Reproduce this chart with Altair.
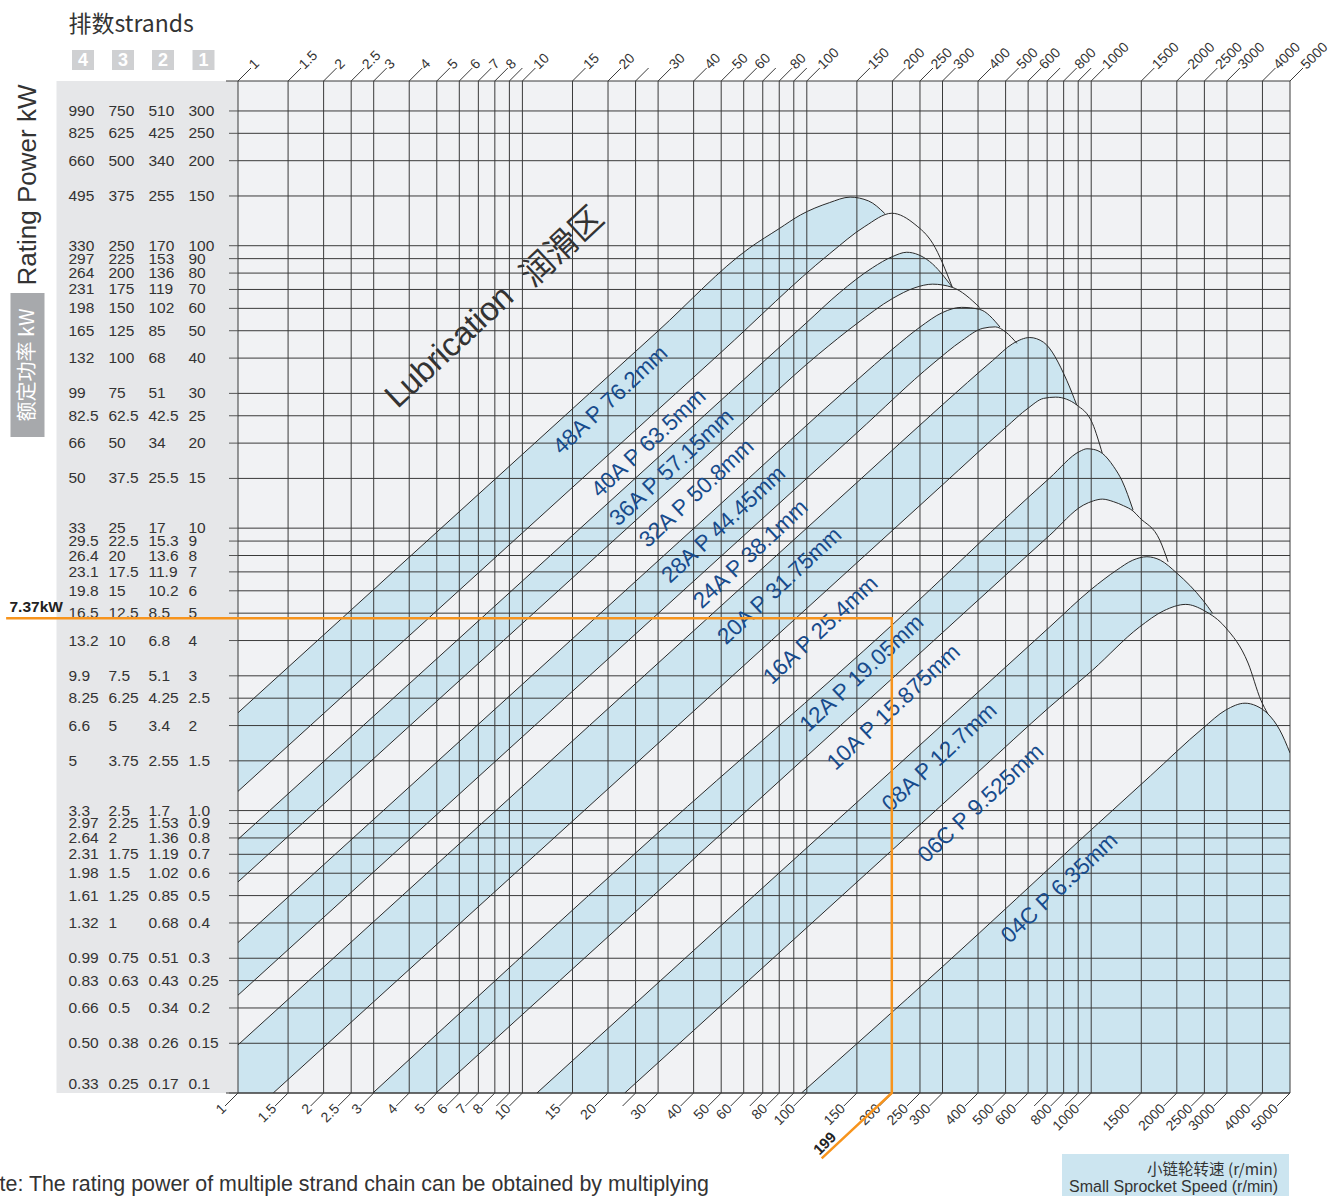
import altair as alt
import pandas as pd

W, H = 1052, 1012
FONT = "Liberation Sans, Arial, Noto Sans CJK SC"
CJK = "Noto Sans CJK SC, Liberation Sans"
BLUE = "#CCE5F0"
BG = "#F1F2F4"
PANEL = "#E6E7E9"
GRID = "#3A3A3A"
TXT = "#333333"
LBL = "#174B8C"
ORANGE = "#F7941D"

# ---------------- data ----------------
x_ticks = [1, 1.5, 2, 2.5, 3, 4, 5, 6, 7, 8, 9, 10, 15, 20, 25, 30, 40, 50, 60, 70, 80, 90, 100,
           150, 200, 250, 300, 400, 500, 600, 700, 800, 900, 1000, 1500, 2000, 2500, 3000, 4000, 5000]
x_labels = [1, 1.5, 2, 2.5, 3, 4, 5, 6, 7, 8, 10, 15, 20, 30, 40, 50, 60, 80, 100, 150, 200, 250,
            300, 400, 500, 600, 800, 1000, 1500, 2000, 2500, 3000, 4000, 5000]
y_ticks = [300, 250, 200, 150, 100, 90, 80, 70, 60, 50, 40, 30, 25, 20, 15, 10, 9, 8, 7, 6, 5, 4, 3,
           2.5, 2, 1.5, 1, 0.9, 0.8, 0.7, 0.6, 0.5, 0.4, 0.3, 0.25, 0.2, 0.15, 0.1]
col4 = ["990", "825", "660", "495", "330", "297", "264", "231", "198", "165", "132", "99", "82.5", "66",
        "50", "33", "29.5", "26.4", "23.1", "19.8", "16.5", "13.2", "9.9", "8.25", "6.6", "5", "3.3",
        "2.97", "2.64", "2.31", "1.98", "1.61", "1.32", "0.99", "0.83", "0.66", "0.50", "0.33"]
col3 = ["750", "625", "500", "375", "250", "225", "200", "175", "150", "125", "100", "75", "62.5", "50",
        "37.5", "25", "22.5", "20", "17.5", "15", "12.5", "10", "7.5", "6.25", "5", "3.75", "2.5",
        "2.25", "2", "1.75", "1.5", "1.25", "1", "0.75", "0.63", "0.5", "0.38", "0.25"]
col2 = ["510", "425", "340", "255", "170", "153", "136", "119", "102", "85", "68", "51", "42.5", "34",
        "25.5", "17", "15.3", "13.6", "11.9", "10.2", "8.5", "6.8", "5.1", "4.25", "3.4", "2.55", "1.7",
        "1.53", "1.36", "1.19", "1.02", "0.85", "0.68", "0.51", "0.43", "0.34", "0.26", "0.17"]
col1 = ["300", "250", "200", "150", "100", "90", "80", "70", "60", "50", "40", "30", "25", "20", "15",
        "10", "9", "8", "7", "6", "5", "4", "3", "2.5", "2", "1.5", "1.0", "0.9", "0.8", "0.7", "0.6",
        "0.5", "0.4", "0.3", "0.25", "0.2", "0.15", "0.1"]

chains = ["48A", "40A", "36A", "32A", "28A", "24A", "20A", "16A", "12A", "10A", "08A", "06C", "04C"]
chain_labels = ["48A P 76.2mm", "40A P 63.5mm", "36A P 57.15mm", "32A P 50.8mm", "28A P 44.45mm",
                "24A P 38.1mm", "20A P 31.75mm", "16A P 25.4mm", "12A P 19.05mm", "10A P 15.875mm",
                "08A P 12.7mm", "06C P 9.525mm", "04C P 6.35mm"]
label_n = [20.4, 27.8, 33.5, 41.0, 51.0, 63.5, 80.3, 111.9, 156.1, 202, 293, 409, 774]
label_p = [28.4, 20.0, 16.4, 13.3, 10.3, 8.09, 6.24, 4.35, 3.06, 2.32, 1.545, 1.061, 0.532]

# rating curves (speed r/min, power kW for one strand)
curve_n = {
    "48A": [1, 10, 30, 63, 80, 95, 120, 142, 165, 188],
    "40A": [1, 10, 50, 120, 160, 199, 240, 277, 325],
    "36A": [1, 10, 50, 100, 130, 170, 200, 224.6, 270, 325],
    "32A": [1, 10, 50, 110, 150, 200, 240, 277, 325, 405],
    "28A": [1, 10, 50, 150, 200, 250, 300, 350, 405, 478],
    "24A": [1, 10, 50, 150, 280, 350, 416, 460, 500, 548],
    "20A": [1, 10, 50, 150, 300, 450, 530, 608, 680, 820, 889],
    "16A": [1.33, 10, 100, 300, 500, 600, 680, 750, 820, 889, 1010, 1094],
    "12A": [2.98, 30, 200, 715, 912, 966, 1020, 1094, 1200, 1284, 1403],
    "10A": [4.97, 30, 200, 715, 938, 1020, 1094, 1200, 1300, 1403, 1478, 1743, 1863],
    "08A": [11.25, 50, 200, 715, 1000, 1229, 1400, 1570, 1750, 2000, 2469, 2670],
    "06C": [22.9, 100, 400, 715, 1010, 1480, 1800, 2150, 2500, 2960, 3560, 3950, 4180],
    "04C": [95.8, 300, 1000, 1614, 2469, 2973, 3474, 3800, 4180, 4600, 5000],
}
curve_p = {
    "48A": [2.22, 18.25, 49.9, 98.3, 115, 128.5, 142, 148.6, 144, 130],
    "40A": [1.17, 9.62, 41.96, 93.5, 117, 130.3, 119, 102, 71.2],
    "36A": [0.791, 6.5, 28.4, 53.5, 68.0, 83.5, 91.5, 94.8, 88, 71.2],
    "32A": [0.559, 4.6, 20.05, 41.3, 53, 65, 71, 73.1, 71.2, 60.5],
    "28A": [0.341, 2.80, 12.23, 33.4, 43.0, 51.5, 58, 60.5, 59.5, 51.5],
    "24A": [0.222, 1.825, 7.96, 21.75, 38.5, 46, 51.0, 51.6, 49.5, 45.1],
    "20A": [0.148, 1.217, 5.31, 14.5, 27.35, 39.2, 45, 47.3, 45.5, 33.4, 27.3],
    "16A": [0.1, 0.633, 5.2, 14.23, 22.7, 26.6, 28.8, 29.1, 28.6, 27.3, 23.5, 18.4],
    "12A": [0.1, 0.835, 4.55, 15.06, 18.7, 19.1, 19.0, 18.4, 16.5, 14.7, 11.6],
    "10A": [0.1, 0.518, 2.94, 9.44, 12.06, 12.5, 12.67, 12.4, 12.0, 11.5, 10.9, 9.06, 7.6],
    "08A": [0.1, 0.392, 1.39, 4.47, 6.07, 7.1, 7.7, 7.92, 7.7, 6.93, 5.56, 5.0],
    "06C": [0.1, 0.385, 1.369, 2.33, 3.14, 4.47, 5.1, 5.37, 5.1, 4.46, 3.33, 2.46, 2.2],
    "04C": [0.1, 0.28, 0.855, 1.326, 1.956, 2.27, 2.40, 2.35, 2.20, 1.93, 1.6],
}

example_n = [0.153, 199, 199, 112.8]
example_p = [4.8, 4.8, 0.1, 0.0587]

# ---------------- chart ----------------
xs = alt.Scale(type="log", domain=[1, 5000], nice=False)
ys = alt.Scale(type="log", domain=[0.1, 383], nice=False)
one = pd.DataFrame({"a": [0]})


def xq(f):
    return alt.X(f, type="quantitative", scale=xs, axis=None)


def yq(f):
    return alt.Y(f, type="quantitative", scale=ys, axis=None)


layers = []

# left grey panel
layers.append(alt.Chart(one).mark_rect(color=PANEL).encode(
    x=alt.value(-181.5), x2=alt.value(0), y=alt.value(0), y2=alt.value(H)))

# band fills (painted from largest chain to smallest)
for i, ch in enumerate(chains):
    d = pd.DataFrame({"n": curve_n[ch], "p": curve_p[ch]})
    layers.append(alt.Chart(d).mark_area(color=BLUE if i % 2 == 0 else BG, interpolate="monotone",
                                         clip=True).encode(x=xq("n"), y=yq("p"), y2=alt.datum(0.1)))

# grid
xt = pd.DataFrame({"v": x_ticks})
yt = pd.DataFrame({"v": y_ticks})
layers.append(alt.Chart(xt).mark_rule(color=GRID, strokeWidth=1).encode(x=xq("v")))
layers.append(alt.Chart(yt).mark_rule(color=GRID, strokeWidth=1).encode(y=yq("v")))
# frame extension lines and left ticks
layers.append(alt.Chart(one).mark_rule(color=GRID, strokeWidth=1).encode(
    x=alt.value(-12), x2=alt.value(W), y=alt.value(0)))
layers.append(alt.Chart(one).mark_rule(color=GRID, strokeWidth=1).encode(
    x=alt.value(-12), x2=alt.value(W), y=alt.value(H)))
layers.append(alt.Chart(yt).mark_rule(color="#555555", strokeWidth=1).encode(
    x=alt.value(-9), x2=alt.value(0), y=yq("v")))

# slanted leaders
layers.append(alt.Chart(xt).mark_rule(color=GRID, strokeWidth=1, x2Offset=13, y2Offset=-13).encode(
    x=xq("v"), x2="v:Q", y=alt.value(0), y2=alt.value(0)))
layers.append(alt.Chart(xt).mark_rule(color=GRID, strokeWidth=1, x2Offset=-13, y2Offset=13).encode(
    x=xq("v"), x2="v:Q", y=alt.value(H), y2=alt.value(H)))

# curves
for ch in chains:
    d = pd.DataFrame({"n": curve_n[ch], "p": curve_p[ch]})
    layers.append(alt.Chart(d).mark_line(color="#2A2A2A", strokeWidth=1, interpolate="monotone",
                                         clip=True).encode(x=xq("n"), y=yq("p")))

# x labels
xl = pd.DataFrame({"v": x_labels, "t": [f"{v:g}" for v in x_labels]})
layers.append(alt.Chart(xl).mark_text(angle=315, align="left", baseline="middle", xOffset=13, dx=1,
                                      fontSize=14, font=FONT, color=TXT).encode(
    x=xq("v"), y=alt.value(-13), text="t:N"))
layers.append(alt.Chart(xl).mark_text(angle=315, align="right", baseline="middle", xOffset=-13, dx=-1,
                                      fontSize=14, font=FONT, color=TXT).encode(
    x=xq("v"), y=alt.value(H + 13), text="t:N"))

# y label columns
yl = pd.DataFrame({"v": y_ticks, "c4": col4, "c3": col3, "c2": col2, "c1": col1})
yl_main = yl[yl["v"] > 0.1]
yl_last = yl[yl["v"] <= 0.1]
for c, xo in zip(["c4", "c3", "c2", "c1"], [-169.5, -129.5, -89.5, -49.5]):
    layers.append(alt.Chart(yl_main).mark_text(align="left", baseline="middle", fontSize=15.5,
                                               font=FONT, color=TXT).encode(
        x=alt.value(xo), y=yq("v"), text=f"{c}:N"))
    layers.append(alt.Chart(yl_last).mark_text(align="left", baseline="middle", fontSize=15.5,
                                               font=FONT, color=TXT, dy=-9).encode(
        x=alt.value(xo), y=yq("v"), text=f"{c}:N"))

# chain labels
cl = pd.DataFrame({"n": label_n, "p": label_p, "t": chain_labels})
layers.append(alt.Chart(cl).mark_text(angle=317, align="center", baseline="middle", fontSize=22.5,
                                      font=FONT, color=LBL).encode(x=xq("n"), y=yq("p"), text="t:N"))

# lubrication label
lub = pd.DataFrame({"n": [5.55, 13.85], "p": [43.8, 98.9], "t": ["Lubrication", "润滑区"]})
layers.append(alt.Chart(lub).mark_text(angle=317, align="center", baseline="middle", fontSize=33,
                                       font=FONT, color=TXT).encode(x=xq("n"), y=yq("p"), text="t:N"))

# example (orange) path
ex = pd.DataFrame({"n": example_n, "p": example_p, "i": list(range(len(example_n)))})
layers.append(alt.Chart(ex).mark_line(color=ORANGE, strokeWidth=2.5).encode(
    x=xq("n"), y=yq("p"), order="i:Q"))
ex_lab = pd.DataFrame({"n": [115.6], "p": [0.0663], "t": ["199"]})
layers.append(alt.Chart(ex_lab).mark_text(angle=315, align="center", baseline="middle", fontSize=15,
                                          fontWeight="bold", font=FONT, color="#222222").encode(
    x=xq("n"), y=yq("p"), text="t:N"))
layers.append(alt.Chart(one).mark_text(align="left", baseline="bottom", fontSize=15.5, fontWeight="bold",
                                       font=FONT, color="#222222").encode(
    x=alt.value(-228.5), y=alt.value(534), text=alt.value("7.37kW")))

# header and axis titles
layers.append(alt.Chart(one).mark_text(align="left", baseline="middle", fontSize=23, font=CJK,
                                       color=TXT).encode(
    x=alt.value(-169.5), y=alt.value(-56), text=alt.value("排数strands")))
for cx, t in zip([-155, -115, -75, -34.5], ["4", "3", "2", "1"]):
    layers.append(alt.Chart(one).mark_rect(color="#CFD0D2").encode(
        x=alt.value(cx - 11), x2=alt.value(cx + 11), y=alt.value(-31), y2=alt.value(-11)))
    layers.append(alt.Chart(one).mark_text(align="center", baseline="middle", fontSize=18,
                                           fontWeight="bold", font=FONT, color="white").encode(
        x=alt.value(cx), y=alt.value(-20), text=alt.value(t)))

layers.append(alt.Chart(one).mark_text(angle=270, align="center", baseline="middle", fontSize=26,
                                       font=FONT, color=TXT).encode(
    x=alt.value(-210.5), y=alt.value(104), text=alt.value("Rating Power kW")))
layers.append(alt.Chart(one).mark_rect(color="#A7A9AC").encode(
    x=alt.value(-227.5), x2=alt.value(-193.5), y=alt.value(212), y2=alt.value(356)))
layers.append(alt.Chart(one).mark_text(angle=270, align="center", baseline="middle", fontSize=20,
                                       font=CJK, color="white").encode(
    x=alt.value(-210.5), y=alt.value(284), text=alt.value("额定功率 kW")))

# bottom-right speed box
layers.append(alt.Chart(one).mark_rect(color=BLUE).encode(
    x=alt.value(824), x2=alt.value(1051), y=alt.value(1073), y2=alt.value(1115)))
layers.append(alt.Chart(one).mark_text(align="right", baseline="middle", fontSize=15.5, font=CJK,
                                       color=TXT).encode(
    x=alt.value(1040), y=alt.value(1089), text=alt.value("小链轮转速 (r/min)")))
layers.append(alt.Chart(one).mark_text(align="right", baseline="middle", fontSize=16, font=FONT,
                                       color=TXT).encode(
    x=alt.value(1040), y=alt.value(1106), text=alt.value("Small Sprocket Speed (r/min)")))

# note
layers.append(alt.Chart(one).mark_text(align="left", baseline="middle", fontSize=21.4, font=FONT,
                                       color=TXT).encode(
    x=alt.value(-265.8), y=alt.value(1104),
    text=alt.value("Note: The rating power of multiple strand chain can be obtained by multiplying")))

chart = alt.layer(*layers).properties(
    width=W, height=H,
    padding={"left": 238, "top": 81, "right": 43, "bottom": 103},
    autosize=alt.AutoSizeParams(type="none"),
    background="white",
).configure_view(stroke=None, fill=BG)

chart.save("out.html", embed_options={"renderer": "svg", "actions": False})
